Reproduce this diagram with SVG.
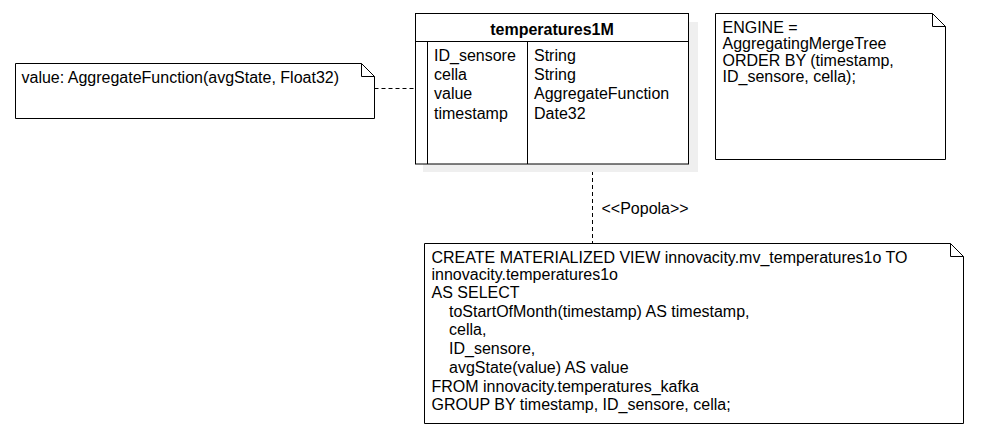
<svg xmlns="http://www.w3.org/2000/svg" width="984" height="445" viewBox="0 0 984 445">
<style>
  .t { font-family: "Liberation Sans", Arial, sans-serif; font-size: 16px; fill: #000; }
  .b { font-weight: bold; }
  .box { fill: #fff; stroke: #000; stroke-width: 1; }
  .ln { fill: none; stroke: #000; stroke-width: 1; }
  .dash { fill: none; stroke: #000; stroke-width: 1; stroke-dasharray: 4 3; }
</style>
<rect width="984" height="445" fill="#fff"/>

<g id="connectors">
  <line class="dash" x1="374.5" y1="88.5" x2="415" y2="88.5"/>
  <line class="dash" x1="592.5" y1="164" x2="592.5" y2="243.5"/>
  <text class="t" x="601.5" y="213.5">&lt;&lt;Popola&gt;&gt;</text>
</g>

<g id="note-value">
  <path class="box" d="M15.5 63.5 H361.5 L374.5 76.5 V118.5 H15.5 Z"/>
  <path class="ln" d="M361.5 63.5 V76.5 H374.5"/>
  <text class="t" x="21.5" y="82.5">value: AggregateFunction(avgState, Float32)</text>
</g>

<g id="temperatures1M">
  <rect x="423" y="22" width="275" height="150" fill="#efefef"/>
  <rect class="box" x="415.5" y="13.5" width="273" height="150.5"/>
  <line class="ln" x1="415.5" y1="41.5" x2="688.5" y2="41.5"/>
  <line class="ln" x1="427.5" y1="41.5" x2="427.5" y2="164"/>
  <line class="ln" x1="527.5" y1="41.5" x2="527.5" y2="164"/>
  <text class="t b" x="552" y="34.5" text-anchor="middle">temperatures1M</text>
  <text class="t" x="434" y="61">ID_sensore</text>
  <text class="t" x="434" y="80.2">cella</text>
  <text class="t" x="434" y="99.4">value</text>
  <text class="t" x="434" y="118.6">timestamp</text>
  <text class="t" x="534" y="61">String</text>
  <text class="t" x="534" y="80.2">String</text>
  <text class="t" x="534" y="99.4">AggregateFunction</text>
  <text class="t" x="534" y="118.6">Date32</text>
</g>

<g id="note-engine">
  <path class="box" d="M715.5 13.5 H932.5 L945.5 26.5 V159.5 H715.5 Z"/>
  <path class="ln" d="M932.5 13.5 V26.5 H945.5"/>
  <text class="t" x="722.5" y="32.5">ENGINE =</text>
  <text class="t" x="722.5" y="49">AggregatingMergeTree</text>
  <text class="t" x="722.5" y="65.5">ORDER BY (timestamp,</text>
  <text class="t" x="722.5" y="82">ID_sensore, cella);</text>
</g>

<g id="note-mv">
  <path class="box" d="M424.5 243.5 H950.5 L963.5 256.5 V423.5 H424.5 Z"/>
  <path class="ln" d="M950.5 243.5 V256.5 H963.5"/>
  <text class="t" x="431.5" y="263">CREATE MATERIALIZED VIEW innovacity.mv_temperatures1o TO</text>
  <text class="t" x="431.5" y="279.5">innovacity.temperatures1o</text>
  <text class="t" x="431.5" y="298">AS SELECT</text>
  <text class="t" x="449" y="316.5">toStartOfMonth(timestamp) AS timestamp,</text>
  <text class="t" x="449" y="335">cella,</text>
  <text class="t" x="449" y="354">ID_sensore,</text>
  <text class="t" x="449" y="372.5">avgState(value) AS value</text>
  <text class="t" x="431.5" y="391.5">FROM innovacity.temperatures_kafka</text>
  <text class="t" x="431.5" y="410">GROUP BY timestamp, ID_sensore, cella;</text>
</g>
</svg>
